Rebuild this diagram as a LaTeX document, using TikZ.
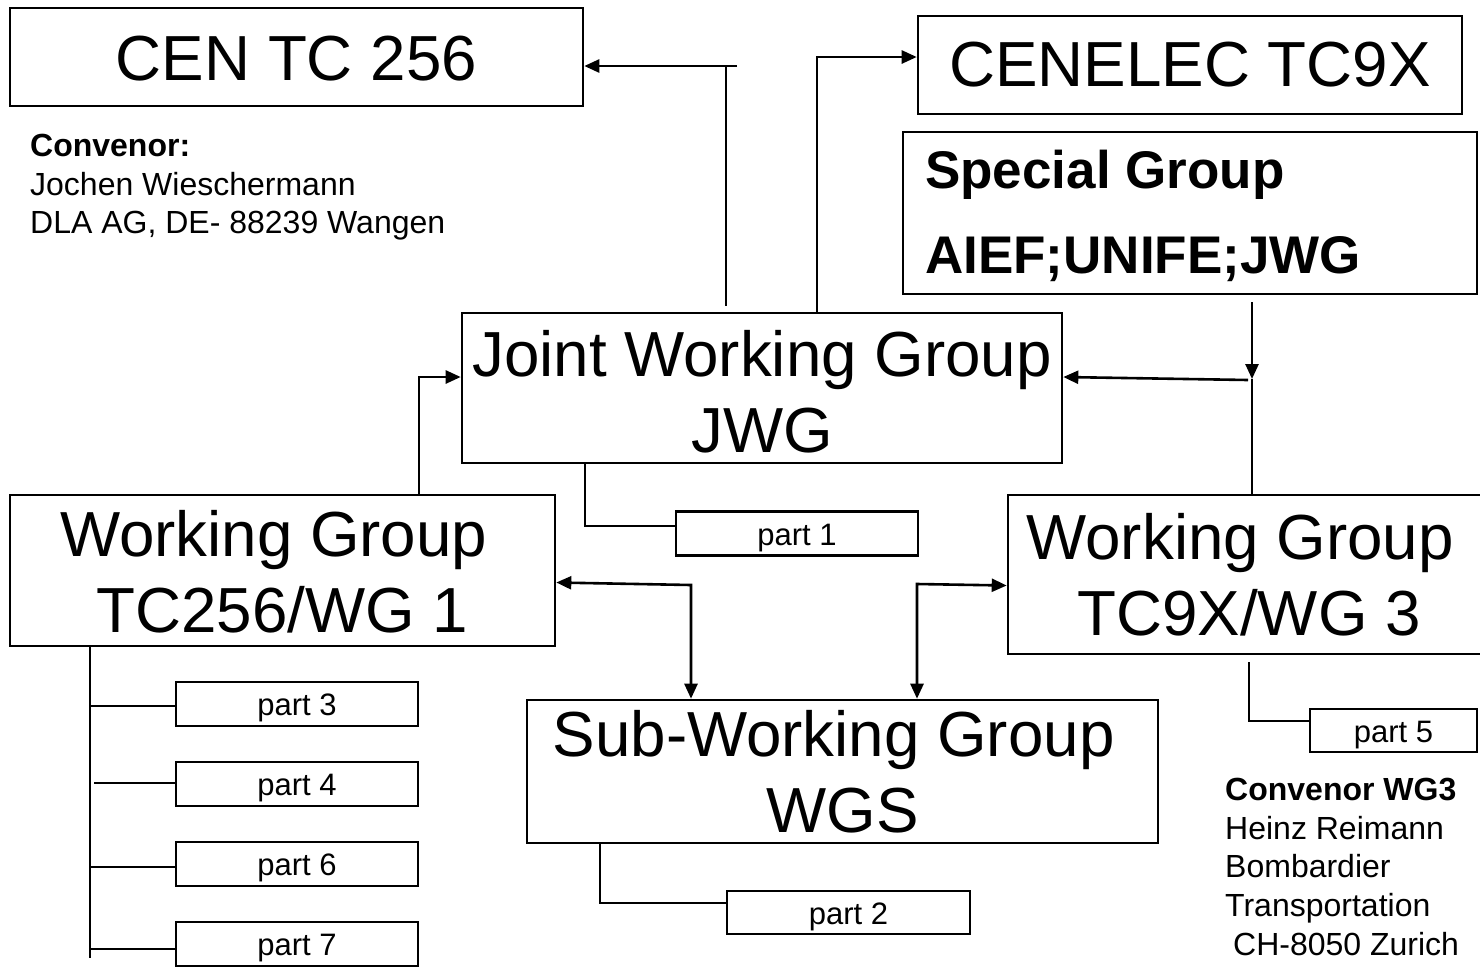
\documentclass[tikz,border=0pt]{standalone}
\usepackage{fontspec}
\setmainfont{Liberation Sans}
\usetikzlibrary{arrows.meta}
\begin{document}
\begin{tikzpicture}[x=1pt,y=-1pt,
  box/.style={draw, line width=2.6pt, inner sep=0pt, align=center, font=\fontsize{63.7}{76.4}\selectfont},
  partbox/.style={draw, line width=2.6pt, inner sep=0pt, minimum width=242pt, minimum height=44pt, text depth=0pt, font=\fontsize{31}{37}\selectfont},
  conn/.style={line width=2.6pt},
  arr/.style={conn, -{Triangle[length=15pt,width=13pt]}},
  darr/.style={conn, {Triangle[length=15pt,width=13pt]}-{Triangle[length=15pt,width=13pt]}},
  note/.style={anchor=base west, inner sep=0pt, font=\fontsize{32}{38}\selectfont},
  notebold/.style={anchor=base west, inner sep=0pt, font=\fontsize{32}{38}\selectfont\bfseries},
  sgtext/.style={anchor=base west, inner sep=0pt, font=\fontsize{53}{64}\selectfont\bfseries}
]
\useasboundingbox (0,0) rectangle (1480,970);
\fill[white] (0,0) rectangle (1480,970);
\clip (0,0) rectangle (1480,970);

% main boxes
\node[box, minimum width=573pt, minimum height=98pt] (cen) at (296.5,57) {\rule{0pt}{48pt}CEN TC 256};
\node[box, minimum width=544pt, minimum height=98pt] (cenelec) at (1190,65) {CENELEC TC9X};
\node[draw, line width=2.6pt, minimum width=574pt, minimum height=162pt, inner sep=0pt] (special) at (1190,213) {};
\node[sgtext] (sg1) at (925,188) {Special Group};
\node[sgtext] (sg2) at (925,273) {AIEF;UNIFE;JWG};
\node[box, minimum width=600pt, minimum height=150pt] (jwg) at (762,388) {\rule{0pt}{54pt}Joint Working Group\\JWG};
\node[box, minimum width=545pt, minimum height=151pt] (wg1) at (282.5,570.5) {\rule{0pt}{49pt}Working Group\makebox[17.7pt]{}\\TC256/WG 1};
\node[box, minimum width=482pt, minimum height=159pt] (wg3) at (1249,574.5) {Working Group\makebox[17.7pt]{}\\TC9X/WG 3};
\node[box, minimum width=631pt, minimum height=143pt] (wgs) at (842.5,771.5) {Sub-Working Group\makebox[17.7pt]{}\\WGS};

% part boxes
\node[partbox] (p1) at (797,533.5) {\raisebox{-2pt}{part 1}};
\node[partbox] (p3) at (297,704) {\raisebox{-2pt}{part 3}};
\node[partbox] (p4) at (297,784) {\raisebox{-2pt}{part 4}};
\node[partbox] (p6) at (297,864) {\raisebox{-2pt}{part 6}};
\node[partbox] (p7) at (297,944) {\raisebox{-2pt}{part 7}};
\node[partbox, minimum width=243pt, minimum height=43pt] (p2) at (848.5,912.5) {\raisebox{-2pt}{part 2}};
\node[partbox, minimum width=167pt, minimum height=43pt] (p5) at (1393.5,730.5) {\raisebox{-2pt}{part 5}};

% notes
\node[notebold] (c1) at (30,156) {Convenor:};
\node[note] (c2) at (30,195) {Jochen Wieschermann};
\node[note] (c3) at (30,233) {DLA AG, DE- 88239 Wangen};
\node[notebold] (d1) at (1225,800) {Convenor WG3};
\node[note] (d2) at (1225,839) {Heinz Reimann};
\node[note] (d3) at (1225,877) {Bombardier};
\node[note] (d4) at (1225,916) {Transportation};
\node[note] (d5) at (1233,955) {CH-8050 Zurich};

% JWG -> CEN TC 256
\coordinate (a1) at (737,66);
\draw[conn] ([xshift=-36pt,yshift=6pt]jwg.north) coordinate (a0) -- (a0 |- a1);
\draw[arr] (a1) -- ([yshift=-9pt]cen.east);
% JWG -> CENELEC
\draw[arr] ([xshift=55pt]jwg.north) |- ([yshift=8pt]cenelec.west);
% WG1 -> JWG
\draw[arr] ([xshift=136.5pt]wg1.north) |- ([yshift=11pt]jwg.west);
% JWG -> part 1
\draw[conn] ([xshift=-177pt]jwg.south) |- ([yshift=7.5pt]p1.west);
% WG1 <-> WGS
\coordinate (b1) at (691,585);
\draw[darr] ([yshift=-12pt]wg1.east) -- (b1) -- (b1 |- wgs.north);
% WG3 <-> WGS
\coordinate (b2) at (917,584);
\draw[darr] ([yshift=-11pt]wg3.west) -- (b2) -- (b2 |- wgs.north);
% Special group -> WG3 / JWG
\coordinate (s1) at (1252,302);
\coordinate (s2) at (1252,379);
\coordinate (s3) at (1248,380);
\draw[arr] (s1) -- (s2);
\draw[conn] (s2) -- (s2 |- wg3.north);
\draw[arr] (s3) -- ([yshift=11pt]jwg.east);
% WGS -> part 2
\draw[conn] ([xshift=-242.5pt]wgs.south) |- ([yshift=9.5pt]p2.west);
% WG3 -> part 5
\draw[conn] ([yshift=-7pt]wg3.south) |- ([yshift=9.5pt]p5.west);
% WG1 trunk and parts 3,4,6,7
\coordinate (t0) at (90,958);
\draw[conn] (wg1.south -| t0) -- (t0);
\draw[conn] ([yshift=-2pt]p3.west) -- ([yshift=-2pt]p3.west -| t0);
\draw[conn] ([yshift=1pt]p4.west) -- ++(-81,0) coordinate (t4);
\draw[conn] ([yshift=-3pt]p6.west) -- ([yshift=-3pt]p6.west -| t0);
\draw[conn] ([yshift=-5pt]p7.west) -- ([yshift=-5pt]p7.west -| t0);
\end{tikzpicture}
\end{document}
